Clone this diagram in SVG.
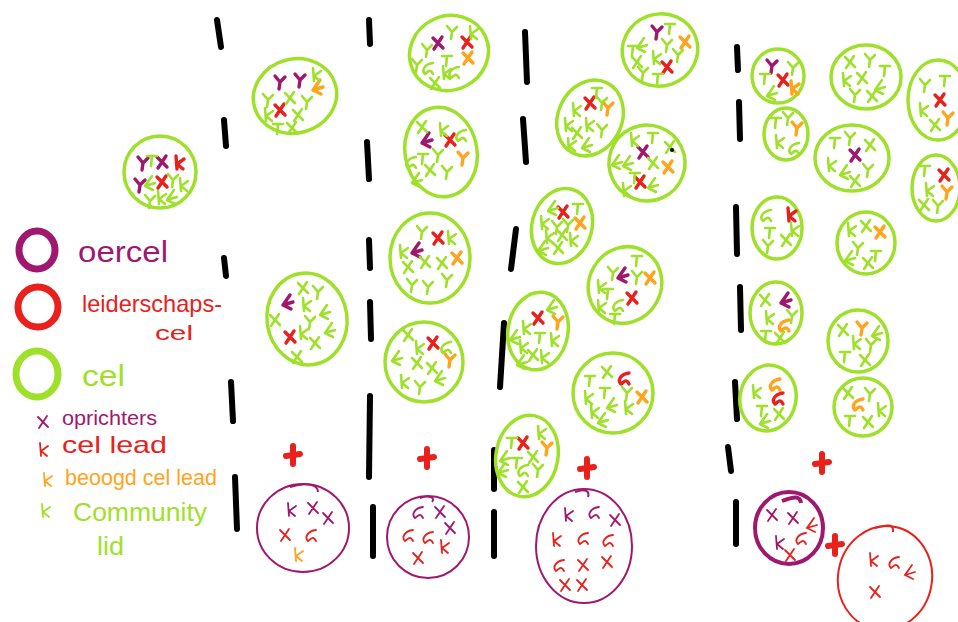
<svg xmlns="http://www.w3.org/2000/svg" xmlns:xlink="http://www.w3.org/1999/xlink" width="958" height="622" viewBox="0 0 958 622">
<style>
text{font-family:"Liberation Sans","DejaVu Sans",sans-serif}
.cg{fill:none;stroke:#9fe02b;stroke-width:3.5}
.cp{fill:none;stroke:#a0186e;stroke-width:2}
.cpt{fill:none;stroke:#a0186e;stroke-width:4}
.cr{fill:none;stroke:#e8211d;stroke-width:2}
.lg{fill:none;stroke-width:7}
.dash{stroke:#000;stroke-width:6;stroke-linecap:round;fill:none}
.plus{stroke:#e8211d;stroke-width:6;stroke-linecap:round;fill:none}
.g{stroke:#9fe02b;stroke-width:2.6;fill:none;stroke-linecap:round;stroke-linejoin:round}
.p{stroke:#a0186e;stroke-width:3.4;fill:none;stroke-linecap:round;stroke-linejoin:round}
.r{stroke:#e8211d;stroke-width:3.4;fill:none;stroke-linecap:round;stroke-linejoin:round}
.o{stroke:#ffa41b;stroke-width:3.4;fill:none;stroke-linecap:round;stroke-linejoin:round}
.tp{stroke:#a0186e;stroke-width:1.8;fill:none;stroke-linecap:round}
.tr{stroke:#e8211d;stroke-width:1.8;fill:none;stroke-linecap:round}
.to{stroke:#ffa41b;stroke-width:1.8;fill:none;stroke-linecap:round}
</style>
<defs>
<path id="mx" d="M-5,-5 L5,5 M4,-6 L-4,6"/>
<path id="my" d="M-5,-6 L0,0 L5,-5 M0,0 L-1,7"/>
<path id="mk" d="M-2,-7 L-1,6 M-1,1 L6,-4 M-1,1 L5,6"/>
<path id="ma" d="M6,-5 C-2,-4 -6,2 -2,6 C1,4 3,0 6,6"/>
<path id="mt" d="M-5,-4 L5,-4 M0,-4 L-1,6"/>
<path id="ml" d="M2,-7 L-5,3 L3,7 M-5,3 L5,0"/>
<path id="pl" d="M0,-9 L0,9 M-7,1 L7,-1"/>
</defs>

<g id="legend">
<ellipse class="lg" cx="37" cy="250" rx="18" ry="19" stroke="#a0186e"/>
<ellipse class="lg" cx="38" cy="307" rx="20" ry="20" stroke="#e8211d"/>
<ellipse class="lg" cx="37" cy="374" rx="21" ry="23" stroke="#9fe02b"/>
<text x="78" y="262" font-size="30" fill="#a0186e" textLength="90" lengthAdjust="spacingAndGlyphs">oercel</text>
<text x="82" y="312" font-size="24" fill="#e8211d" textLength="140" lengthAdjust="spacingAndGlyphs">leiderschaps-</text>
<text x="155" y="340" font-size="20" fill="#e8211d" textLength="38" lengthAdjust="spacingAndGlyphs">cel</text>
<text x="82" y="386" font-size="30" fill="#9fe02b" textLength="43" lengthAdjust="spacingAndGlyphs">cel</text>
<use href="#mx" x="43" y="422" class="tp"/>
<text x="62" y="425" font-size="20" fill="#a0186e" textLength="95" lengthAdjust="spacingAndGlyphs">oprichters</text>
<use href="#mk" x="42" y="450" class="tr"/>
<text x="62" y="453" font-size="24" fill="#e8211d" textLength="105" lengthAdjust="spacingAndGlyphs">cel lead</text>
<use href="#mk" x="46" y="480" class="to"/>
<text x="65" y="485" font-size="22" fill="#ffa41b" textLength="152" lengthAdjust="spacingAndGlyphs">beoogd cel lead</text>
<use href="#mk" x="44" y="511" class="g" style="stroke-width:1.8"/>
<text x="73" y="521" font-size="26" fill="#9fe02b" textLength="134" lengthAdjust="spacingAndGlyphs">Community</text>
<text x="97" y="555" font-size="26" fill="#9fe02b" textLength="27" lengthAdjust="spacingAndGlyphs">lid</text>
</g>

<g id="separators">
<path class="dash" d="M217,20 L221,47 M224,120 L226,146 M224,258 L226,276 M231,382 L233,421 M235,477 L237,529"/>
<path class="dash" d="M369,20 L370,44 M367,142 L369,179 M369,240 L370,268 M370,302 L371,339 M370,396 L369,477 M373,507 L373,556"/>
<path class="dash" d="M525,32 L527,82 M523,119 L526,162 M516,229 L511,269 M504,323 L500,387 M494,450 L494,489 M494,512 L494,556"/>
<path class="dash" d="M737,47 L738,70 M739,102 L740,139 M736,207 L737,254 M740,287 L741,330 M735,382 L737,419 M728,447 L731,471 M736,502 L736,544"/>
</g>

<g id="cell-0">
<ellipse class="cg" cx="160" cy="172" rx="36" ry="36"/>
<use href="#my" x="143" y="163" class="p"/><use href="#mx" x="162" y="162" class="p"/><use href="#my" x="140" y="185" class="p"/>
<use href="#mk" x="178" y="163" class="r"/><use href="#mx" x="162" y="182" class="r"/>
<use href="#mt" x="152" y="160" class="g"/><use href="#ml" x="150" y="183" class="g"/><use href="#my" x="173" y="180" class="g"/><use href="#mk" x="182" y="185" class="g"/><use href="#my" x="150" y="201" class="g"/><use href="#mk" x="160" y="198" class="g"/><use href="#ml" x="172" y="197" class="g"/>
</g>

<g id="cell-1a">
<ellipse class="cg" cx="295" cy="96" rx="42" ry="37" transform="rotate(-15 295 96)"/>
<use href="#my" x="280" y="82" class="p"/><use href="#my" x="300" y="80" class="p"/>
<use href="#ml" x="318" y="87" class="o"/><use href="#mx" x="280" y="110" class="r"/>
<use href="#mk" x="315" y="75" class="g"/><use href="#my" x="268" y="100" class="g"/><use href="#mx" x="290" y="98" class="g"/><use href="#my" x="307" y="102" class="g"/><use href="#mk" x="267" y="115" class="g"/><use href="#mx" x="298" y="115" class="g"/><use href="#mt" x="278" y="128" class="g"/><use href="#mx" x="292" y="128" class="g"/>
</g>

<g id="cell-1b">
<ellipse class="cg" cx="307" cy="319" rx="40" ry="46" transform="rotate(-8 307 319)"/>
<use href="#ml" x="288" y="302" class="p"/><use href="#mx" x="290" y="337" class="r"/>
<use href="#mx" x="303" y="288" class="g"/><use href="#my" x="318" y="292" class="g"/><use href="#mk" x="305" y="305" class="g"/><use href="#ml" x="325" y="312" class="g"/><use href="#mx" x="275" y="320" class="g"/><use href="#my" x="310" y="322" class="g"/><use href="#mk" x="302" y="333" class="g"/><use href="#ml" x="330" y="330" class="g"/><use href="#mx" x="315" y="343" class="g"/><use href="#mx" x="297" y="357" class="g"/>
</g>

<g id="oercel-1">
<use href="#pl" x="293" y="455" class="plus"/>
<ellipse class="cp" cx="303" cy="528" rx="46" ry="44"/>
<path class="cp" d="M290,487 C305,482 318,484 318,492"/>
<use href="#mk" x="290" y="510" class="tp"/><use href="#mx" x="313" y="508" class="tp"/><use href="#mx" x="328" y="518" class="tp"/>
<use href="#mx" x="285" y="535" class="tr"/><use href="#ma" x="310" y="535" class="tr"/><use href="#mk" x="297" y="555" class="to"/>
</g>

<g id="cell-2a">
<ellipse class="cg" cx="449" cy="53" rx="40" ry="37" transform="rotate(-25 449 53)"/>
<use href="#mx" x="438" y="43" class="p"/><use href="#mx" x="467" y="42" class="r"/><use href="#mx" x="468" y="58" class="o"/>
<use href="#my" x="452" y="32" class="g"/><use href="#mk" x="472" y="33" class="g"/><use href="#my" x="427" y="50" class="g"/><use href="#mt" x="447" y="60" class="g"/><use href="#my" x="417" y="65" class="g"/><use href="#ma" x="427" y="68" class="g"/><use href="#mk" x="445" y="73" class="g"/><use href="#ma" x="453" y="72" class="g"/><use href="#mx" x="435" y="83" class="g"/>
</g>

<g id="cell-2b">
<ellipse class="cg" cx="441" cy="152" rx="36" ry="45" transform="rotate(-10 441 152)"/>
<use href="#ml" x="427" y="140" class="p"/><use href="#mx" x="450" y="140" class="r"/><use href="#my" x="463" y="158" class="o"/>
<use href="#mx" x="422" y="127" class="g"/><use href="#mk" x="442" y="130" class="g"/><use href="#ma" x="460" y="135" class="g"/><use href="#ma" x="410" y="162" class="g"/><use href="#mt" x="423" y="158" class="g"/><use href="#my" x="438" y="155" class="g"/><use href="#mx" x="430" y="170" class="g"/><use href="#my" x="447" y="172" class="g"/><use href="#ml" x="417" y="180" class="g"/>
</g>

<g id="cell-2c">
<ellipse class="cg" cx="430" cy="258" rx="40" ry="45"/>
<use href="#ml" x="417" y="250" class="p"/><use href="#mx" x="438" y="238" class="r"/><use href="#mx" x="457" y="258" class="o"/>
<use href="#my" x="422" y="232" class="g"/><use href="#mk" x="450" y="238" class="g"/><use href="#mk" x="402" y="252" class="g"/><use href="#mx" x="408" y="267" class="g"/><use href="#mx" x="425" y="262" class="g"/><use href="#mx" x="442" y="263" class="g"/><use href="#my" x="412" y="285" class="g"/><use href="#my" x="428" y="287" class="g"/><use href="#my" x="447" y="280" class="g"/>
</g>

<g id="cell-2d">
<ellipse class="cg" cx="424" cy="362" rx="39" ry="40"/>
<use href="#mx" x="433" y="343" class="r"/><use href="#my" x="450" y="360" class="o"/>
<use href="#mx" x="408" y="335" class="g"/><use href="#mk" x="418" y="348" class="g"/><use href="#ma" x="445" y="347" class="g"/><use href="#ml" x="397" y="358" class="g"/><use href="#mx" x="417" y="363" class="g"/><use href="#mx" x="432" y="368" class="g"/><use href="#mk" x="403" y="382" class="g"/><use href="#my" x="420" y="387" class="g"/><use href="#ml" x="440" y="378" class="g"/>
</g>

<g id="oercel-2">
<use href="#pl" x="427" y="458" class="plus"/>
<ellipse class="cp" cx="428" cy="537" rx="41" ry="41"/>
<path class="cp" d="M420,498 C428,495 436,497 432,502"/>
<use href="#ma" x="417" y="512" class="tp"/><use href="#mx" x="440" y="512" class="tp"/><use href="#mx" x="450" y="528" class="tp"/>
<use href="#ma" x="407" y="535" class="tr"/><use href="#ma" x="427" y="537" class="tr"/><use href="#mk" x="443" y="547" class="tr"/><use href="#mx" x="418" y="558" class="tr"/>
</g>

<g id="cell-3a">
<ellipse class="cg" cx="660" cy="50" rx="38" ry="36" transform="rotate(-20 660 50)"/>
<use href="#my" x="657" y="32" class="p"/><use href="#mx" x="685" y="42" class="o"/><use href="#mx" x="667" y="67" class="r"/>
<use href="#mt" x="670" y="28" class="g"/><use href="#mt" x="633" y="50" class="g"/><use href="#ml" x="642" y="45" class="g"/><use href="#my" x="667" y="45" class="g"/><use href="#my" x="678" y="55" class="g"/><use href="#mx" x="637" y="62" class="g"/><use href="#mk" x="655" y="58" class="g"/><use href="#my" x="643" y="73" class="g"/><use href="#mt" x="658" y="78" class="g"/>
</g>

<g id="cell-3b">
<ellipse class="cg" cx="590" cy="118" rx="32" ry="39" transform="rotate(25 590 118)"/>
<use href="#mx" x="590" y="103" class="r"/><use href="#my" x="608" y="108" class="o"/>
<use href="#mt" x="597" y="92" class="g"/><use href="#mk" x="575" y="110" class="g"/><use href="#my" x="602" y="103" class="g"/><use href="#mk" x="567" y="125" class="g"/><use href="#mk" x="588" y="125" class="g"/><use href="#mx" x="577" y="133" class="g"/><use href="#my" x="602" y="130" class="g"/><use href="#mk" x="570" y="145" class="g"/><use href="#ml" x="587" y="145" class="g"/>
</g>

<g id="cell-3c">
<ellipse class="cg" cx="647" cy="163" rx="38" ry="38" transform="rotate(-25 647 163)"/>
<use href="#mx" x="643" y="152" class="p"/><use href="#mx" x="668" y="167" class="o"/><use href="#mx" x="640" y="182" class="r"/>
<use href="#mk" x="633" y="140" class="g"/><use href="#mt" x="653" y="137" class="g"/><use href="#mx" x="670" y="147" class="g"/><circle cx="672" cy="150" r="2" fill="#000"/><use href="#ml" x="617" y="162" class="g"/><use href="#ml" x="628" y="163" class="g"/><use href="#mx" x="653" y="163" class="g"/><use href="#mk" x="625" y="190" class="g"/><use href="#ml" x="653" y="185" class="g"/><use href="#mt" x="635" y="177" class="g"/>
</g>

<g id="cell-3d">
<ellipse class="cg" cx="562" cy="226" rx="30" ry="38" transform="rotate(15 562 226)"/>
<use href="#mx" x="563" y="212" class="r"/><use href="#mx" x="580" y="223" class="o"/>
<use href="#ml" x="553" y="208" class="g"/><use href="#mt" x="578" y="208" class="g"/><use href="#mk" x="543" y="223" class="g"/><use href="#my" x="557" y="227" class="g"/><use href="#my" x="568" y="225" class="g"/><use href="#mk" x="548" y="237" class="g"/><use href="#mx" x="562" y="235" class="g"/><use href="#mk" x="572" y="240" class="g"/><use href="#ml" x="543" y="248" class="g"/><use href="#mx" x="558" y="248" class="g"/>
</g>

<g id="cell-3e">
<ellipse class="cg" cx="625" cy="285" rx="36" ry="39" transform="rotate(30 625 285)"/>
<use href="#ml" x="623" y="275" class="p"/><use href="#mx" x="632" y="298" class="r"/><use href="#mx" x="650" y="278" class="o"/>
<use href="#my" x="613" y="273" class="g"/><use href="#mt" x="637" y="260" class="g"/><use href="#my" x="637" y="277" class="g"/><use href="#mk" x="600" y="287" class="g"/><use href="#mt" x="608" y="293" class="g"/><use href="#mk" x="600" y="307" class="g"/><use href="#ma" x="617" y="305" class="g"/><use href="#mt" x="615" y="318" class="g"/>
</g>

<g id="cell-3f">
<ellipse class="cg" cx="538" cy="331" rx="30" ry="39" transform="rotate(10 538 331)"/>
<use href="#mx" x="538" y="318" class="r"/><use href="#my" x="558" y="322" class="o"/>
<use href="#ml" x="552" y="307" class="g"/><use href="#mk" x="525" y="328" class="g"/><use href="#mt" x="540" y="337" class="g"/><use href="#ml" x="515" y="337" class="g"/><use href="#mk" x="553" y="340" class="g"/><use href="#mk" x="522" y="347" class="g"/><use href="#mx" x="533" y="355" class="g"/><use href="#mk" x="543" y="357" class="g"/><use href="#ml" x="522" y="362" class="g"/>
</g>

<g id="cell-3g">
<ellipse class="cg" cx="613" cy="393" rx="40" ry="40"/>
<use href="#ma" x="623" y="378" class="r"/><use href="#mx" x="642" y="397" class="o"/>
<use href="#mt" x="590" y="380" class="g"/><use href="#mx" x="607" y="372" class="g"/><use href="#mt" x="605" y="392" class="g"/><use href="#my" x="627" y="393" class="g"/><use href="#mk" x="587" y="398" class="g"/><use href="#ml" x="612" y="405" class="g"/><use href="#mk" x="593" y="412" class="g"/><use href="#ml" x="603" y="420" class="g"/><use href="#mk" x="627" y="408" class="g"/>
</g>

<g id="cell-3h">
<ellipse class="cg" cx="527" cy="456" rx="31" ry="41" transform="rotate(10 527 456)"/>
<use href="#mx" x="523" y="443" class="r"/><use href="#my" x="547" y="448" class="o"/>
<use href="#mt" x="512" y="442" class="g"/><use href="#mk" x="540" y="433" class="g"/><use href="#ml" x="505" y="458" class="g"/><use href="#mt" x="517" y="462" class="g"/><use href="#mx" x="533" y="457" class="g"/><use href="#ma" x="522" y="470" class="g"/><use href="#my" x="538" y="470" class="g"/><use href="#ml" x="503" y="470" class="g"/><use href="#mx" x="523" y="487" class="g"/>
</g>

<g id="oercel-3">
<use href="#pl" x="587" y="468" class="plus"/>
<ellipse class="cp" cx="584" cy="546" rx="48" ry="57"/>
<path class="cp" d="M575,492 C585,488 590,491 588,497"/>
<use href="#mk" x="567" y="515" class="tp"/><use href="#ma" x="593" y="512" class="tp"/><use href="#mx" x="615" y="520" class="tp"/>
<use href="#mk" x="555" y="540" class="tr"/><use href="#ma" x="582" y="538" class="tr"/><use href="#ma" x="607" y="540" class="tr"/><use href="#ma" x="558" y="565" class="tr"/><use href="#mx" x="583" y="565" class="tr"/><use href="#mx" x="607" y="562" class="tr"/><use href="#mx" x="565" y="585" class="tr"/><use href="#mx" x="582" y="585" class="tr"/>
</g>

<g id="cell-4a">
<ellipse class="cg" cx="778" cy="76" rx="26" ry="27"/>
<use href="#my" x="772" y="66" class="p"/><use href="#mx" x="783" y="80" class="r"/><use href="#mk" x="793" y="88" class="o"/>
<use href="#mt" x="765" y="78" class="g"/><use href="#my" x="793" y="68" class="g"/><use href="#ml" x="772" y="93" class="g"/>
</g>
<g id="cell-4b">
<ellipse class="cg" cx="866" cy="77" rx="35" ry="32"/>
<use href="#mx" x="850" y="62" class="g"/><use href="#my" x="870" y="60" class="g"/><use href="#mt" x="885" y="70" class="g"/><use href="#mk" x="845" y="80" class="g"/><use href="#mx" x="862" y="78" class="g"/><use href="#ml" x="880" y="87" class="g"/><use href="#my" x="855" y="95" class="g"/><use href="#mx" x="872" y="96" class="g"/>
</g>
<g id="cell-4c">
<ellipse class="cg" cx="938" cy="100" rx="30" ry="40"/>
<use href="#mx" x="940" y="100" class="r"/><use href="#my" x="948" y="118" class="o"/>
<use href="#my" x="925" y="85" class="g"/><use href="#mt" x="945" y="80" class="g"/><use href="#mk" x="922" y="110" class="g"/><use href="#mx" x="935" y="125" class="g"/>
</g>
<g id="cell-4d">
<ellipse class="cg" cx="786" cy="134" rx="22" ry="26"/>
<use href="#my" x="797" y="128" class="o"/>
<use href="#mt" x="776" y="122" class="g"/><use href="#my" x="788" y="118" class="g"/><use href="#mk" x="778" y="142" class="g"/><use href="#ma" x="793" y="148" class="g"/>
</g>
<g id="cell-4e">
<ellipse class="cg" cx="852" cy="158" rx="37" ry="33"/>
<use href="#mx" x="855" y="155" class="p"/>
<use href="#mt" x="835" y="142" class="g"/><use href="#my" x="850" y="138" class="g"/><use href="#mx" x="870" y="145" class="g"/><use href="#mk" x="830" y="165" class="g"/><use href="#ml" x="845" y="172" class="g"/><use href="#my" x="868" y="170" class="g"/><use href="#mx" x="855" y="181" class="g"/>
</g>
<g id="cell-4f">
<ellipse class="cg" cx="936" cy="188" rx="24" ry="33"/>
<use href="#mx" x="944" y="175" class="r"/><use href="#my" x="947" y="192" class="o"/>
<use href="#mt" x="925" y="170" class="g"/><use href="#mk" x="928" y="190" class="g"/><use href="#my" x="938" y="206" class="g"/><use href="#mx" x="924" y="205" class="g"/>
</g>
<g id="cell-4g">
<ellipse class="cg" cx="777" cy="228" rx="25" ry="31"/>
<use href="#mk" x="790" y="215" class="r"/>
<use href="#ma" x="765" y="215" class="g"/><use href="#mt" x="770" y="232" class="g"/><use href="#mx" x="786" y="240" class="g"/><use href="#my" x="768" y="246" class="g"/><use href="#mk" x="793" y="230" class="g"/>
</g>
<g id="cell-4h">
<ellipse class="cg" cx="866" cy="243" rx="29" ry="31"/>
<use href="#mx" x="880" y="232" class="o"/>
<use href="#mk" x="850" y="230" class="g"/><use href="#mx" x="866" y="226" class="g"/><use href="#my" x="858" y="248" class="g"/><use href="#mt" x="876" y="255" class="g"/><use href="#ml" x="850" y="258" class="g"/><use href="#mx" x="868" y="263" class="g"/>
</g>
<g id="cell-4i">
<ellipse class="cg" cx="776" cy="313" rx="26" ry="31"/>
<use href="#ml" x="786" y="300" class="p"/><use href="#ma" x="783" y="325" class="o"/>
<use href="#mx" x="765" y="300" class="g"/><use href="#mk" x="768" y="318" class="g"/><use href="#my" x="792" y="316" class="g"/><use href="#mt" x="766" y="335" class="g"/><use href="#mx" x="780" y="338" class="g"/>
</g>
<g id="cell-4j">
<ellipse class="cg" cx="858" cy="341" rx="30" ry="31"/>
<use href="#my" x="862" y="328" class="o"/>
<use href="#mx" x="843" y="330" class="g"/><use href="#mk" x="855" y="343" class="g"/><use href="#my" x="871" y="345" class="g"/><use href="#mt" x="845" y="356" class="g"/><use href="#mx" x="865" y="360" class="g"/><use href="#ml" x="877" y="333" class="g"/>
</g>
<g id="cell-4k">
<ellipse class="cg" cx="768" cy="398" rx="28" ry="33" transform="rotate(10 768 398)"/>
<use href="#ma" x="774" y="384" class="o"/><use href="#ma" x="777" y="398" class="r"/>
<use href="#mk" x="755" y="392" class="g"/><use href="#mt" x="762" y="410" class="g"/><use href="#mx" x="779" y="414" class="g"/><use href="#ml" x="765" y="421" class="g"/>
</g>
<g id="cell-4l">
<ellipse class="cg" cx="863" cy="407" rx="29" ry="29"/>
<use href="#ma" x="857" y="404" class="o"/>
<use href="#mx" x="848" y="393" class="g"/><use href="#my" x="870" y="394" class="g"/><use href="#mk" x="880" y="410" class="g"/><use href="#mt" x="850" y="420" class="g"/><use href="#mx" x="868" y="422" class="g"/>
</g>

<g id="oercel-4">
<use href="#pl" x="822" y="463" class="plus"/>
<ellipse class="cpt" cx="789" cy="528" rx="34" ry="36"/>
<path class="cpt" d="M782,501 C795,496 800,496 801,503"/>
<use href="#mx" x="772" y="515" class="tp"/><use href="#mx" x="793" y="518" class="tp"/><use href="#ml" x="812" y="525" class="tr"/><use href="#ma" x="800" y="538" class="tr"/><use href="#mk" x="778" y="543" class="tp"/><use href="#mx" x="790" y="555" class="tr"/>
</g>

<g id="leiderschapscel-4">
<use href="#pl" x="835" y="545" class="plus"/>
<ellipse class="cr" cx="885" cy="578" rx="47" ry="52" transform="rotate(10 885 578)"/>
<path class="cr" d="M875,528 C888,524 894,524 893,532"/>
<use href="#mk" x="872" y="560" class="tr"/><use href="#ma" x="893" y="562" class="tr"/><use href="#ml" x="910" y="572" class="tr"/><use href="#mx" x="875" y="592" class="tr"/>
</g>
</svg>
